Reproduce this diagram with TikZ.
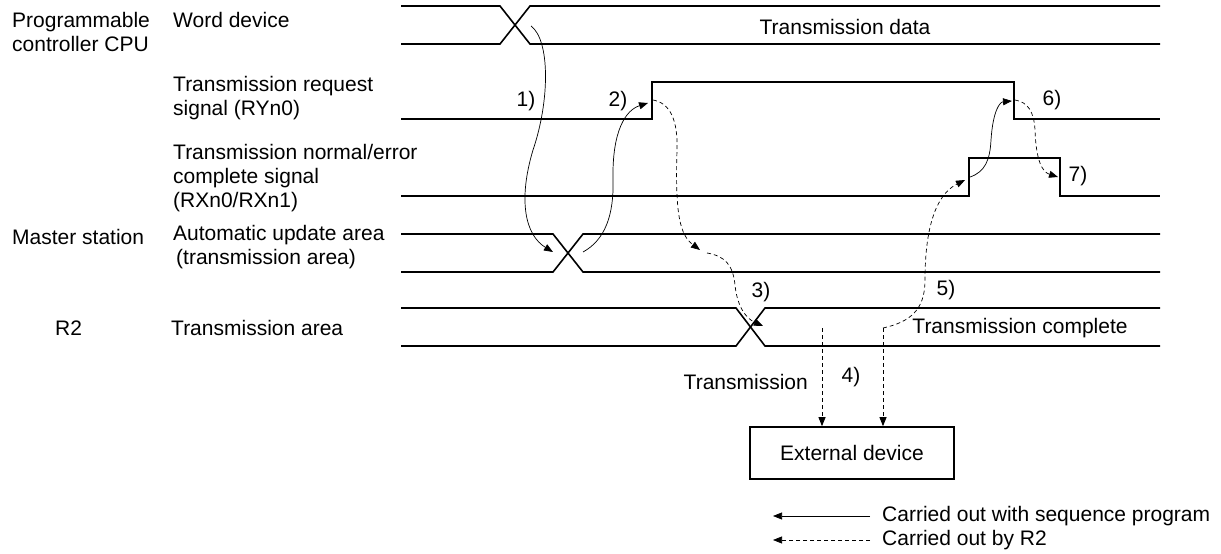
\documentclass[tikz,border=0pt]{standalone}
\usepackage{fontspec}
\setmainfont{Liberation Sans}
\usetikzlibrary{arrows.meta}

\begin{document}
\begin{tikzpicture}[x=1pt,y=-1pt,
    sig/.style={line width=1.6pt},
    seqarr/.style={line width=0.7pt,-{Triangle[length=9pt,width=7pt]}},
    rtwoarr/.style={seqarr,dash pattern=on 4pt off 3pt},
    txt/.style={inner sep=0pt,font=\fontsize{21}{24}\selectfont,align=left}]
  \useasboundingbox (0,0) rectangle (1221,554);

  % left hand labels
  \node[txt,anchor=west] (cpu) at (12,32) {Programmable\\controller CPU};
  \node[txt,anchor=west] (master) at (12,237) {Master station};
  \node[txt,anchor=west] (rtwo) at (55,328) {R2};
  \node[txt,anchor=west] (word) at (173,20) {Word device};
  \node[txt,anchor=west] (req) at (173,98) {Transmission request\\signal (RYn0)};
  \node[txt,anchor=west] (cmpl) at (173,178) {Transmission normal/error\\complete signal\\(RXn0/RXn1)};
  \node[txt,anchor=west] (auto) at (173,247) {Automatic update area\\\hspace{3pt}(transmission area)};
  \node[txt,anchor=west] (tarea) at (171,328) {Transmission area};

  % signals
  \draw[sig] (401,6) -- (500,6) -- (530,44) -- (1160,44);
  \draw[sig] (401,44) -- (500,44) -- (530,6) -- (1160,6);
  \draw[sig] (401,119) -- (652,119) -- (652,82) -- (1014,82) -- (1014,119) -- (1160,119);
  \draw[sig] (401,196) -- (969,196) -- (969,158) -- (1060,158) -- (1060,196) -- (1160,196);
  \draw[sig] (401,234) -- (553,234) -- (583,272) -- (1160,272);
  \draw[sig] (401,272) -- (553,272) -- (583,234) -- (1160,234);
  \draw[sig] (401,308) -- (736,308) -- (765,346) -- (1160,346);
  \draw[sig] (401,346) -- (736,346) -- (765,308) -- (1160,308);

  \node[txt] (tdata) at (845,27) {Transmission data};
  \node[txt] (tdone) at (1020,328) {Transmission complete};

  % external device
  \node[draw,line width=1.6pt,minimum width=204pt,minimum height=52pt,
        inner sep=0pt,font=\fontsize{21}{24}\selectfont] (ext) at (852,453) {External device};

  % step points
  \coordinate (wx) at (531,26);
  \coordinate (ax) at (553,252);
  \coordinate (ay) at (583,252);
  \coordinate (rup) at (648,103);
  \coordinate (rupd) at (653,100);
  \coordinate (am) at (700,250);
  \coordinate (amd) at (707,253);
  \coordinate (tx) at (763,326);
  \coordinate (sa) at (822,328);
  \coordinate (sb) at (883,328);
  \coordinate (cup) at (965,180);
  \coordinate (cupd) at (970,177);
  \coordinate (rdn) at (1012,101);
  \coordinate (rdnd) at (1015,100);
  \coordinate (cdn) at (1058,177);

  % 1) to 7)
  \draw[seqarr] (wx) .. controls (550,40) and (550,100) .. (533,150)
                     .. controls (518,200) and (525,235) .. (ax);
  \draw[seqarr] (ay) .. controls (605,240) and (614,215) .. (613,180)
                     .. controls (612,130) and (626,110) .. (rup);
  \draw[rtwoarr] (rupd) .. controls (670,103) and (678,120) .. (677,150)
                        .. controls (675,215) and (680,235) .. (am);
  \draw[rtwoarr] (amd) .. controls (725,256) and (733,265) .. (735,285)
                       .. controls (737,305) and (745,318) .. (tx);
  \draw[rtwoarr,line width=0.9pt] (sa) -- (sa |- ext.north);
  \draw[rtwoarr,line width=0.9pt] (sb) -- (sb |- ext.north);
  \draw[rtwoarr] (sb) .. controls (910,322) and (925,310) .. (925,280)
                      .. controls (925,230) and (935,195) .. (cup);
  \draw[seqarr] (cupd) .. controls (985,172) and (990,160) .. (991,140)
                       .. controls (993,110) and (1000,102) .. (rdn);
  \draw[rtwoarr] (rdnd) .. controls (1028,102) and (1034,112) .. (1035,130)
                        .. controls (1036,160) and (1042,172) .. (cdn);

  \node[txt] (n1) at (526,101) {1)};
  \node[txt] (n2) at (618,101) {2)};
  \node[txt] (n3) at (761,292) {3)};
  \node[txt] (n4) at (851,377) {4)};
  \node[txt] (n5) at (946,290) {5)};
  \node[txt] (n6) at (1052,100) {6)};
  \node[txt] (n7) at (1078,176) {7)};
  \node[txt,anchor=east] (ttx) at (808,382) {Transmission};

  % legend
  \coordinate (lga) at (870,516);
  \coordinate (lgb) at (773,516);
  \coordinate (lgc) at (870,540);
  \coordinate (lgd) at (773,540);
  \draw[seqarr] (lga) -- (lgb);
  \draw[rtwoarr] (lgc) -- (lgd);
  \node[txt,anchor=west] (lgseq) at (882,516) {Carried out with sequence program};
  \node[txt,anchor=west] (lgr) at (882,540) {Carried out by R2};
\end{tikzpicture}
\end{document}
